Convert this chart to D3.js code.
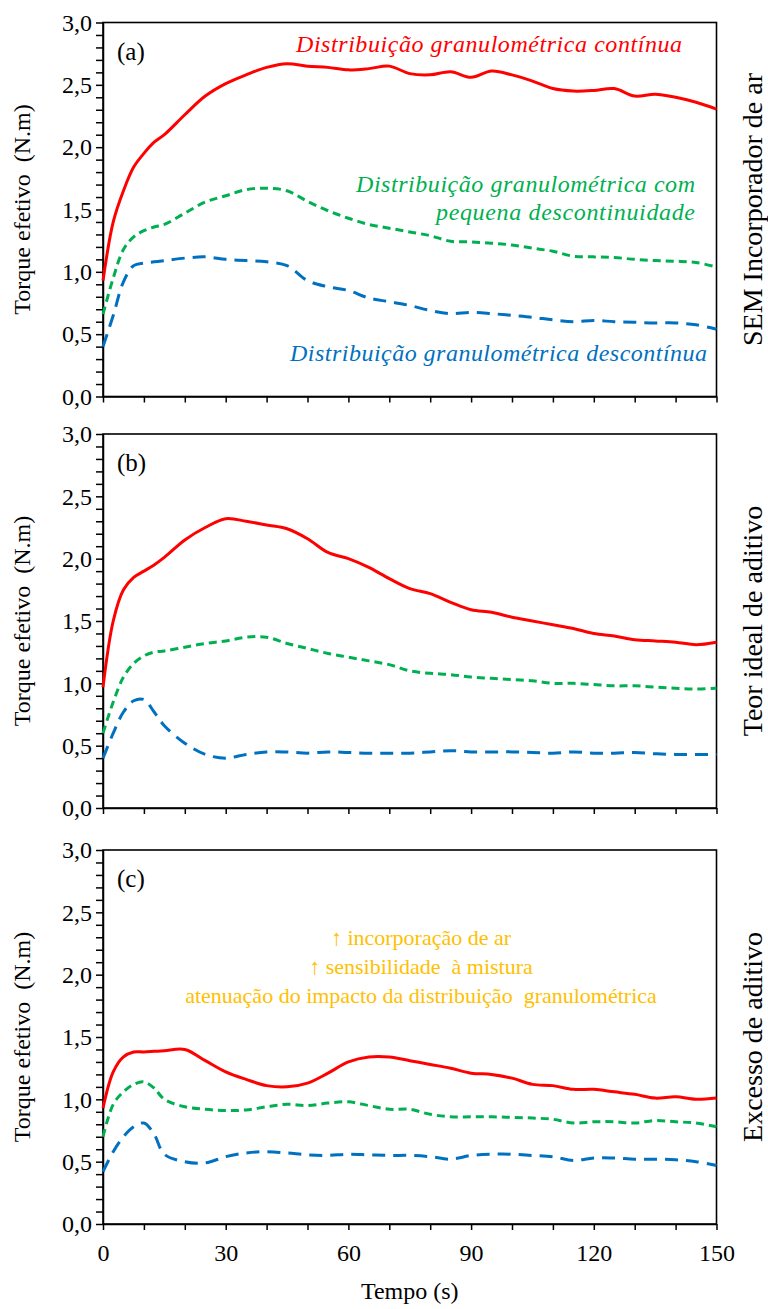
<!DOCTYPE html>
<html>
<head>
<meta charset="utf-8">
<script src="https://cdn.jsdelivr.net/npm/d3@7"></script>
<style>
  body { margin: 0; background: #fff; }
  svg text { font-family: "Liberation Serif", serif !important; white-space: pre; }
</style>
</head>
<body>
<svg id="chart" width="768" height="1309"></svg>
<script>
// tempo (s), shared by every curve
const time = [0, 2.5, 5, 7.5, 10, 12.5, 15, 20, 25, 30, 35, 40, 45, 50, 55, 60, 65, 70, 75,
  80, 85, 90, 95, 100, 105, 110, 115, 120, 125, 130, 135, 140, 145, 150];

// (a) SEM incorporador de ar
const contA = [0.93, 1.40, 1.65, 1.84, 1.95, 2.04, 2.10, 2.26, 2.41, 2.51, 2.58, 2.64, 2.67, 2.65, 2.64, 2.62, 2.63, 2.65, 2.59,
  2.58, 2.605, 2.56, 2.61, 2.58, 2.53, 2.47, 2.45, 2.455, 2.47, 2.41, 2.425, 2.40, 2.36, 2.305];
const pequA = [0.66, 0.95, 1.18, 1.28, 1.33, 1.36, 1.38, 1.47, 1.56, 1.61, 1.66, 1.67, 1.65, 1.565, 1.49, 1.43, 1.38, 1.35, 1.32,
  1.29, 1.245, 1.24, 1.23, 1.215, 1.19, 1.165, 1.125, 1.12, 1.115, 1.10, 1.09, 1.085, 1.075, 1.038];
const descA = [0.40, 0.65, 0.92, 1.05, 1.07, 1.08, 1.09, 1.11, 1.12, 1.10, 1.09, 1.08, 1.05, 0.93, 0.88, 0.85, 0.79, 0.76, 0.73,
  0.69, 0.665, 0.675, 0.665, 0.65, 0.635, 0.615, 0.60, 0.61, 0.60, 0.595, 0.59, 0.59, 0.575, 0.54];

// (b) teor ideal de aditivo
const contB = [0.97, 1.50, 1.75, 1.85, 1.90, 1.95, 2.01, 2.15, 2.25, 2.32, 2.30, 2.27, 2.24, 2.16, 2.05, 2.00, 1.93, 1.84, 1.76,
  1.72, 1.65, 1.59, 1.57, 1.53, 1.50, 1.47, 1.44, 1.40, 1.38, 1.35, 1.34, 1.33, 1.31, 1.33];
const pequB = [0.60, 0.85, 1.05, 1.16, 1.22, 1.25, 1.26, 1.29, 1.32, 1.34, 1.37, 1.37, 1.32, 1.28, 1.24, 1.21, 1.18, 1.15, 1.10,
  1.08, 1.07, 1.05, 1.04, 1.03, 1.02, 1.00, 1.00, 0.99, 0.98, 0.98, 0.97, 0.96, 0.955, 0.96];
const descB = [0.40, 0.60, 0.77, 0.86, 0.87, 0.77, 0.66, 0.52, 0.43, 0.40, 0.43, 0.45, 0.45, 0.44, 0.45, 0.445, 0.44, 0.44, 0.44,
  0.45, 0.46, 0.45, 0.45, 0.45, 0.445, 0.44, 0.45, 0.44, 0.44, 0.445, 0.435, 0.43, 0.43, 0.43];

// (c) excesso de aditivo
const contC = [0.93, 1.22, 1.34, 1.38, 1.38, 1.385, 1.39, 1.40, 1.31, 1.22, 1.16, 1.11, 1.10, 1.13, 1.21, 1.30, 1.34, 1.34, 1.31,
  1.28, 1.25, 1.21, 1.20, 1.17, 1.12, 1.11, 1.08, 1.08, 1.06, 1.04, 1.01, 1.02, 1.00, 1.01];
const pequC = [0.70, 0.96, 1.06, 1.12, 1.14, 1.09, 1.00, 0.94, 0.92, 0.91, 0.915, 0.94, 0.96, 0.95, 0.97, 0.98, 0.95, 0.92, 0.92,
  0.88, 0.86, 0.86, 0.86, 0.855, 0.85, 0.84, 0.81, 0.82, 0.82, 0.81, 0.83, 0.82, 0.81, 0.78];
const descC = [0.42, 0.58, 0.70, 0.78, 0.81, 0.72, 0.56, 0.50, 0.49, 0.54, 0.57, 0.58, 0.57, 0.555, 0.55, 0.56, 0.555, 0.55, 0.55,
  0.54, 0.52, 0.55, 0.56, 0.56, 0.55, 0.54, 0.51, 0.53, 0.53, 0.52, 0.52, 0.515, 0.50, 0.47];

const panelNames = ["(a)", "(b)", "(c)"];
const sideLabels = ["SEM Incorporador de ar", "Teor ideal de aditivo", "Excesso de aditivo"];
const xTickLabels = [0, 30, 60, 90, 120, 150];
const yTickLabels = [0, 0.5, 1, 1.5, 2, 2.5, 3];
const notesC = ["\u2191 incorporação de ar", "\u2191 sensibilidade  à mistura", "atenuação do impacto da distribuição  granulométrica"];

const red = "#ff0000", green = "#00b050", blue = "#0070c0", amber = "#ffc000";
const serif = "'Liberation Serif', serif";
const left = 103, right = 716.5, panelH = 374;
const panelTop = [22.5, 434, 850];

const svg = d3.select("#chart").attr("font-family", serif);
const x = d3.scaleLinear().domain([0, 150]).range([left, right]);
const comma = d => d.toFixed(1).replace(".", ",");

const series = [
  [contA, pequA, descA],
  [contB, pequB, descB],
  [contC, pequC, descC]
];
const styles = [
  { color: red, dash: null },
  { color: green, dash: "8,5" },
  { color: blue, dash: "13,8" }
];

series.forEach(function (set, p) {
  const top = panelTop[p];
  const y = d3.scaleLinear().domain([0, 3]).range([top + panelH, top]);
  const g = svg.append("g").attr("class", "panel");

  // y axis, minor ticks every 0.1
  const yAxis = d3.axisLeft(y)
    .tickValues(d3.range(0, 31).map(i => i / 10))
    .tickSize(7).tickSizeOuter(0).tickPadding(4)
    .tickFormat(d => yTickLabels.some(v => Math.abs(v - d) < 1e-6) ? comma(d) : "");
  g.append("g").attr("transform", `translate(${left},0)`).call(yAxis)
    .attr("font-family", serif).attr("font-size", 24)
    .call(s => s.selectAll("text").attr("fill", "#000"));

  // x axis, minor ticks every 10 s
  const xAxis = d3.axisBottom(x)
    .tickValues(d3.range(0, 151, 10))
    .tickSize(6).tickSizeOuter(0).tickPadding(14)
    .tickFormat(d => (p === 2 && xTickLabels.includes(d)) ? d : "");
  g.append("g").attr("transform", `translate(0,${top + panelH})`).call(xAxis)
    .attr("font-family", serif).attr("font-size", 24)
    .call(s => s.selectAll("text").attr("fill", "#000"));

  g.selectAll(".domain, .tick line").attr("stroke", "#000").attr("stroke-width", 1.5);

  // frame
  g.append("rect")
    .attr("x", left).attr("y", top)
    .attr("width", right - left).attr("height", panelH)
    .attr("fill", "none").attr("stroke", "#000").attr("stroke-width", 1.6);

  const line = d3.line()
    .x((d, i) => x(time[i]))
    .y(d => y(d))
    .curve(d3.curveCatmullRom.alpha(0.5));

  set.forEach(function (vals, k) {
    g.append("path")
      .datum(vals)
      .attr("d", line)
      .attr("fill", "none")
      .attr("stroke", styles[k].color)
      .attr("stroke-width", 3)
      .attr("stroke-dasharray", styles[k].dash);
  });

  g.append("text")
    .attr("x", 117).attr("y", top + 37)
    .attr("font-size", 25)
    .text(panelNames[p]);

  // y title
  g.append("text")
    .attr("transform", `translate(30,${top + panelH / 2}) rotate(-90)`)
    .attr("text-anchor", "middle")
    .attr("font-size", 24)
    .text("Torque efetivo  (N.m)");

  // side label
  g.append("text")
    .attr("transform", `translate(762,${top + panelH / 2}) rotate(-90)`)
    .attr("text-anchor", "middle")
    .attr("font-size", 28)
    .text(sideLabels[p]);
});

// legends written on panel (a)
const italic = svg.append("g").attr("font-style", "italic").attr("font-size", 24);
italic.append("text").attr("x", 296).attr("y", 52).attr("fill", red)
  .attr("textLength", 386).attr("lengthAdjust", "spacing")
  .text("Distribuição granulométrica contínua");
italic.append("text").attr("x", 356).attr("y", 192).attr("fill", green)
  .attr("textLength", 339).attr("lengthAdjust", "spacing")
  .text("Distribuição granulométrica com");
italic.append("text").attr("x", 436).attr("y", 220).attr("fill", green)
  .attr("textLength", 259).attr("lengthAdjust", "spacing")
  .text("pequena descontinuidade");
italic.append("text").attr("x", 290).attr("y", 361).attr("fill", blue)
  .attr("textLength", 417).attr("lengthAdjust", "spacing")
  .text("Distribuição granulométrica descontínua");

// notes on panel (c)
svg.append("g").selectAll("text")
  .data(notesC)
  .enter().append("text")
  .attr("x", 421)
  .attr("y", (d, i) => 945 + i * 29)
  .attr("text-anchor", "middle")
  .attr("fill", amber)
  .attr("font-size", 22)
  .text(d => d);

svg.append("text")
  .attr("x", (left + right) / 2).attr("y", 1299)
  .attr("text-anchor", "middle")
  .attr("font-size", 24)
  .text("Tempo (s)");
</script>
</body>
</html>
